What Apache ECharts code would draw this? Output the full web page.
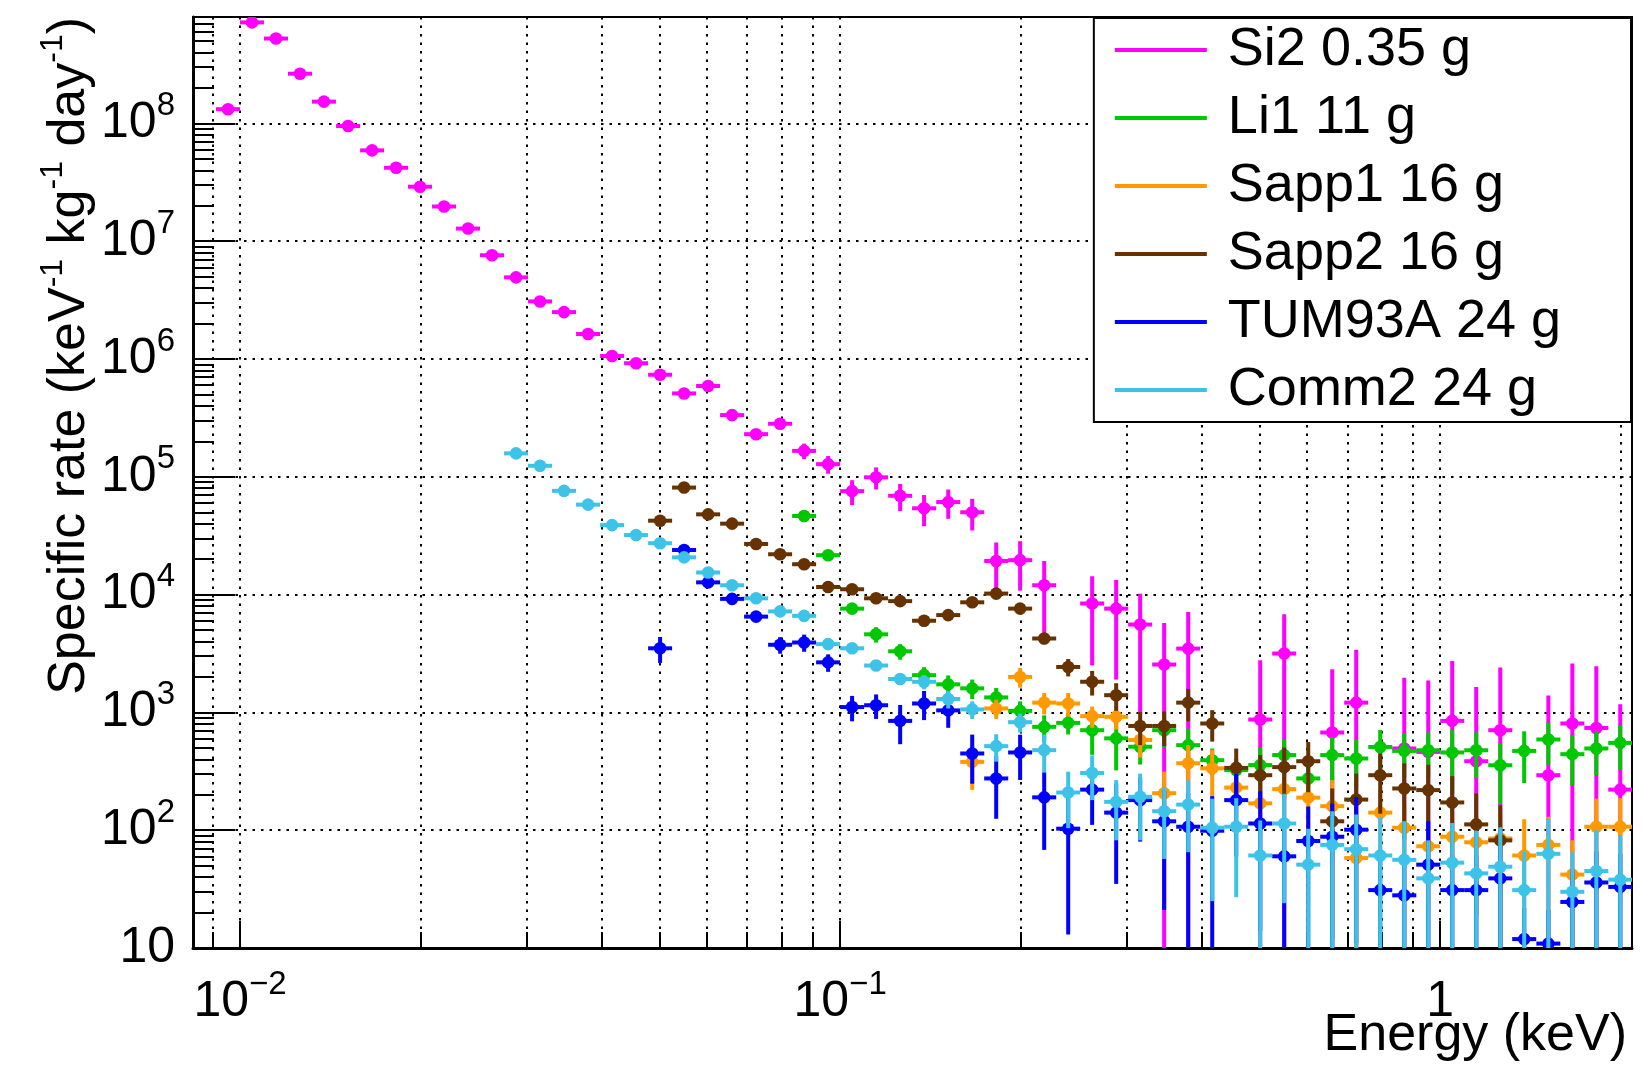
<!DOCTYPE html>
<html>
<head>
<meta charset="utf-8">
<script src="https://cdn.jsdelivr.net/npm/echarts@6/dist/echarts.min.js"></script>
<style>
  html, body { margin: 0; padding: 0; background: #fff; }
  #chart { width: 1645px; height: 1066px; }
</style>
</head>
<body>
<div id="chart"></div>
<script>
// bin centres (keV), 25 bins per decade
var energy = [0.009550, 0.01047, 0.01148, 0.01259, 0.01380, 0.01514, 0.01660, 0.01820, 0.01995,
    0.02188, 0.02399, 0.02630, 0.02884, 0.03162, 0.03467, 0.03802, 0.04169, 0.04571, 0.05012,
    0.05495, 0.06026, 0.06607, 0.07244, 0.07943, 0.08710,
    0.09550, 0.1047, 0.1148, 0.1259, 0.1380, 0.1514, 0.1660, 0.1820, 0.1995,
    0.2188, 0.2399, 0.2630, 0.2884, 0.3162, 0.3467, 0.3802, 0.4169, 0.4571, 0.5012,
    0.5495, 0.6026, 0.6607, 0.7244, 0.7943, 0.8710,
    0.9550, 1.047, 1.148, 1.259, 1.380, 1.514, 1.660, 1.820, 1.995];

var seriesNames = ['Si2 0.35 g', 'Li1 11 g', 'Sapp1 16 g', 'Sapp2 16 g', 'TUM93A 24 g', 'Comm2 24 g'];
var seriesColors = ['#ff00ff', '#00c800', '#ff9900', '#663300', '#0000ff', '#3ec3e8'];

// rates (keV-1 kg-1 day-1), null = empty bin
var si2Rate = [1.32e8, 7.2e8, 5.25e8, 2.64e8, 1.53e8, 9.5e7, 5.9e7, 4.2e7, 2.9e7,
    1.97e7, 1.28e7, 7.6e6, 4.93e6, 3.08e6, 2.5e6, 1.63e6, 1.06e6, 9.2e5, 7.35e5,
    5.1e5, 5.9e5, 3.34e5, 2.3e5, 2.82e5, 1.66e5,
    1.28e5, 7.55e4, 9.9e4, 6.9e4, 5.4e4, 6.1e4, 5.0e4, 1.93e4, 1.96e4,
    1.2e4, null, 8400, 7600, 5570, 2550, 3480, null, null, 870,
    3160, null, 675, 1210, null, 494,
    462, 847, 385, 706, null, 293, 805, 738, 221];
var si2Err = [2.5e6, 1e7, 7e6, 3.5e6, 2e6, 1.2e6, 8e5, 6e5, 4e5,
    3e5, 2e5, 1.2e5, 9e4, 6e4, 5e4, 3.5e4, 2.5e4, 2.2e4, 2e4,
    1.6e4, 1.8e4, 1.3e4, 1.1e4, 1.3e4, 2.5e4,
    2.2e4, 1.8e4, 2.1e4, 1.8e4, 1.6e4, 1.7e4, 1.5e4, 8400, 8800,
    7300, null, 5900, 5700, 4600, 3200, 3650, null, null, 1900,
    3660, null, 1650, 2200, null, 1470,
    1400, 1880, 1260, 1700, null, 1100, 1800, 1730, 950];

var li1Rate = [null, null, null, null, null, null, null, null, null,
    null, null, null, null, null, null, null, null, null, null,
    null, null, null, null, null, 4.65e4,
    2.16e4, 7600, 4600, 3300, 2070, 1730, 1600, 1340, 1030,
    754, 815, 706, 602, 511, 706, 527, 393, 324, 357,
    434, 275, 434, 406, 509, 471,
    477, 457, 477, 356, 471, 589, 442, 494, 551];
var li1Err = [null, null, null, null, null, null, null, null, null,
    null, null, null, null, null, null, null, null, null, null,
    null, null, null, null, null, 2300,
    1000, 400, 690, 500, 350, 330, 300, 270, 210,
    190, 165, 270, 280, 150, 200, 200, 100, 80, 150,
    150, 80, 180, 180, 200, 190,
    200, 250, 200, 190, 220, 230, 200, 200, 225];

var sapp1Rate = [null, null, null, null, null, null, null, null, null,
    null, null, null, null, null, null, null, null, null, null,
    null, null, null, null, null, null,
    null, null, null, null, null, null, 380, 1080, 2000,
    1210, 1190, 929, 917, 583, 206, 370, 335, 230, 169,
    223, 189, 160, 58, 141, 105,
    73, 88, 79, 85, 61, 75, 42, 107, 107];
var sapp1Err = [null, null, null, null, null, null, null, null, null,
    null, null, null, null, null, null, null, null, null, null,
    null, null, null, null, null, null,
    null, null, null, null, null, null, 160, 200, 380,
    250, 270, 190, 200, 170, 108, 156, 146, 100, 80,
    100, 100, 106, 55, 80, 60,
    50, 55, 55, 55, 63, 55, 40, 78, 80];

var sapp2Rate = [null, null, null, null, null, null, null, null, null,
    null, null, null, null, null, null, null, null, null, 4.24e4,
    8.1e4, 4.8e4, 4.0e4, 2.69e4, 2.2e4, 1.81e4,
    1.16e4, 1.11e4, 9300, 8800, 6000, 6700, 8600, 1.02e4, 7600,
    4240, 2430, 1820, 1400, 767, 767, 1210, 805, 338, 293,
    343, 385, 119, 182, 293, 226,
    219, 172, 112, 82, null, null, null, null, null];
var sapp2Err = [null, null, null, null, null, null, null, null, null,
    null, null, null, null, null, null, null, null, null, 1500,
    2500, 1700, 1500, 1100, 1000, 900,
    700, 700, 650, 650, 550, 600, 700, 800, 700,
    450, 410, 430, 370, 240, 250, 370, 240, 155, 140,
    160, 175, 107, 120, 155, 143,
    140, 116, 93, 81, null, null, null, null, null];

var tum93aRate = [null, null, null, null, null, null, null, null, null,
    null, null, null, null, null, null, null, null, null, 3500,
    2.39e4, 1.27e4, 9200, 6500, 3750, 3920,
    2660, 1110, 1150, 847, 1190, 1040, 448, 275, 457,
    190, 103, 221, 141, 180, 119, 107, 99, 180, 114,
    60, 81, 88, 101, 31, 28,
    51, 31, 31, 39, 11.9, 10.9, 24.6, 36, 33];
var tum93aErr = [null, null, null, null, null, null, null, null, null,
    null, null, null, null, null, null, null, null, null, 870,
    1000, 700, 550, 450, 600, 650,
    450, 270, 270, 310, 330, 300, 200, 150, 190,
    122, 90, 110, 106, 100, 98, 100, 95, 120, 100,
    60, 78, 80, 90, 25, 25,
    68, 30, 30, 35, 10, 10, 22, 30, 30];

var comm2Rate = [null, null, null, null, null, null, null, null, null,
    null, null, null, 1.58e5, 1.24e5, 7.6e4, 5.8e4, 3.89e4, 3.2e4, 2.73e4,
    2.07e4, 1.54e4, 1.2e4, 9300, 7200, 6600,
    3800, 3500, 2500, 1920, 1820, 1300, 1060, 517, 826,
    478, 209, 306, 174, 192, 145, 165, 105, 107, 61,
    114, 51, 75, 69, 61, 56,
    39, 53, 43, 49, 31, 63, 30, 45, 38];
var comm2Err = [null, null, null, null, null, null, null, null, null,
    null, null, null, 3000, 2500, 1800, 1500, 1200, 1000, 900,
    800, 700, 600, 500, 450, 450,
    300, 300, 200, 200, 250, 220, 180, 135, 150,
    170, 105, 126, 92, 110, 88, 100, 80, 80, 60,
    90, 52, 70, 67, 66, 63,
    43, 62, 56, 57, 35, 62, 35, 55, 53];

var allRates = [si2Rate, li1Rate, sapp1Rate, sapp2Rate, tum93aRate, comm2Rate];
var allErrs = [si2Err, li1Err, sapp1Err, sapp2Err, tum93aErr, comm2Err];

// axis ranges and tick values
var xMin = 0.00835, xMax = 2.087;
var yMin = 10, yMax = 8e8;
var xMajorTicks = [0.01, 0.1, 1];
var yMajorTicks = [10, 100, 1e3, 1e4, 1e5, 1e6, 1e7, 1e8];

function minorTicks(decades, lo, hi) {
    var out = [];
    decades.forEach(function (d) {
        for (var k = 2; k <= 9; k++) {
            var v = d * k;
            if (v >= lo && v <= hi) out.push(v);
        }
    });
    return out;
}
var xMinorTicks = minorTicks([0.001, 0.01, 0.1, 1], xMin, xMax);
var yMinorTicks = minorTicks(yMajorTicks, yMin, yMax);

var fontName = 'Liberation Sans';
var binHalf = Math.pow(10, 0.02);   // half bin width in log space

function toPoints(rates, errs) {
    var pts = [];
    rates.forEach(function (r, i) {
        if (r != null) pts.push([energy[i], r, errs[i]]);
    });
    return pts;
}

// horizontal bar = bin width, vertical bar = +- error, dot = marker
function renderBin(params, api) {
    var e = api.value(0), r = api.value(1), s = api.value(2);
    var color = api.visual('color');
    var c = api.coord([e, r]);
    var x1 = api.coord([e / binHalf, r])[0];
    var x2 = api.coord([e * binHalf, r])[0];
    var yTop = api.coord([e, r + s])[1];
    var yBot = (r - s > 0) ? api.coord([e, r - s])[1] : params.coordSys.y + params.coordSys.height + 20;
    return {
        type: 'group',
        children: [
            { type: 'line', shape: { x1: x1, y1: c[1], x2: x2, y2: c[1] }, style: { stroke: color, lineWidth: 4 } },
            { type: 'line', shape: { x1: c[0], y1: yTop, x2: c[0], y2: yBot }, style: { stroke: color, lineWidth: 4 } },
            { type: 'circle', shape: { cx: c[0], cy: c[1], r: 6.3 }, style: { fill: color } }
        ]
    };
}

var series = seriesNames.map(function (name, k) {
    return {
        name: name,
        type: 'custom',
        renderItem: renderBin,
        clip: true,
        itemStyle: { color: seriesColors[k] },
        encode: { x: 0, y: 1 },
        data: toPoints(allRates[k], allErrs[k])
    };
});

var dotted = { color: '#000', width: 2, type: [2.5, 6] };
var labelRich = {
    b: { fontSize: 50, lineHeight: 68, fontFamily: fontName, color: '#000' },
    s: { fontSize: 33, lineHeight: 33, verticalAlign: 'top', fontFamily: fontName, color: '#000' }
};

var myChart = echarts.init(document.getElementById('chart'));

var option = {
    animation: false,
    textStyle: { fontFamily: fontName },
    color: seriesColors,
    grid: {
        left: 193, right: 13, top: 17, bottom: 118,
        show: true, borderColor: '#000', borderWidth: 2, backgroundColor: '#fff'
    },
    legend: {
        data: seriesNames,
        orient: 'vertical',
        right: 14,
        top: 18,
        icon: 'rect',
        itemWidth: 92,
        itemHeight: 4,
        itemGap: 12,
        selectedMode: false,
        backgroundColor: '#fff',
        borderColor: '#000',
        borderWidth: 2,
        borderRadius: 0,
        padding: [4, 70, 4, 21],
        textStyle: { fontSize: 54, color: '#000', lineHeight: 56, padding: [0, 0, 0, 16], fontFamily: fontName }
    },
    xAxis: [{
        type: 'log',
        min: xMin, max: xMax,
        position: 'bottom',
        axisLine: { lineStyle: { color: '#000', width: 3 } },
        axisTick: { inside: true, length: 27, lineStyle: { color: '#000', width: 2 }, customValues: xMajorTicks },
        axisLabel: {
            customValues: xMajorTicks,
            margin: 20,
            formatter: function (v) {
                var n = Math.round(Math.log10(v));
                return n === 0 ? '{b|1}' : '{b|10}{s|\u2212' + (-n) + '}';
            },
            rich: labelRich
        },
        splitLine: { show: true, lineStyle: dotted }
    }, {
        type: 'log',
        min: xMin, max: xMax,
        position: 'bottom',
        axisLine: { show: false },
        axisLabel: { show: false },
        axisTick: { inside: true, length: 16, lineStyle: { color: '#000', width: 2 }, customValues: xMinorTicks },
        splitLine: { show: true, lineStyle: dotted }
    }],
    yAxis: [{
        type: 'log',
        min: yMin, max: yMax,
        position: 'left',
        axisLine: { lineStyle: { color: '#000', width: 3 } },
        axisTick: { inside: true, length: 42, lineStyle: { color: '#000', width: 2 }, customValues: yMajorTicks },
        axisLabel: {
            customValues: yMajorTicks,
            margin: 18,
            formatter: function (v) {
                var n = Math.round(Math.log10(v));
                return n === 1 ? '{b|10}' : '{b|10}{s|' + n + '}';
            },
            rich: labelRich
        },
        splitLine: { show: true, lineStyle: dotted }
    }, {
        type: 'log',
        min: yMin, max: yMax,
        position: 'left',
        axisLine: { show: false },
        axisLabel: { show: false },
        axisTick: { inside: true, length: 21, lineStyle: { color: '#000', width: 2 }, customValues: yMinorTicks },
        splitLine: { show: false }
    }],
    graphic: [{
        type: 'text',
        x: 70, y: 17,
        rotation: Math.PI / 2,
        style: {
            text: 'Specific rate (keV{s|-1} kg{s|-1} day{s|-1})',
            fontSize: 52, lineHeight: 66, fontFamily: fontName, fill: '#000',
            align: 'right', verticalAlign: 'middle',
            rich: { s: { fontSize: 32, lineHeight: 32, verticalAlign: 'top', fontFamily: fontName } }
        }
    }, {
        type: 'text',
        x: 1627, y: 1010,
        style: {
            text: 'Energy (keV)',
            fontSize: 52, fontFamily: fontName, fill: '#000',
            align: 'right', verticalAlign: 'top'
        }
    }],
    series: series
};

myChart.setOption(option, true);
</script>
</body>
</html>
